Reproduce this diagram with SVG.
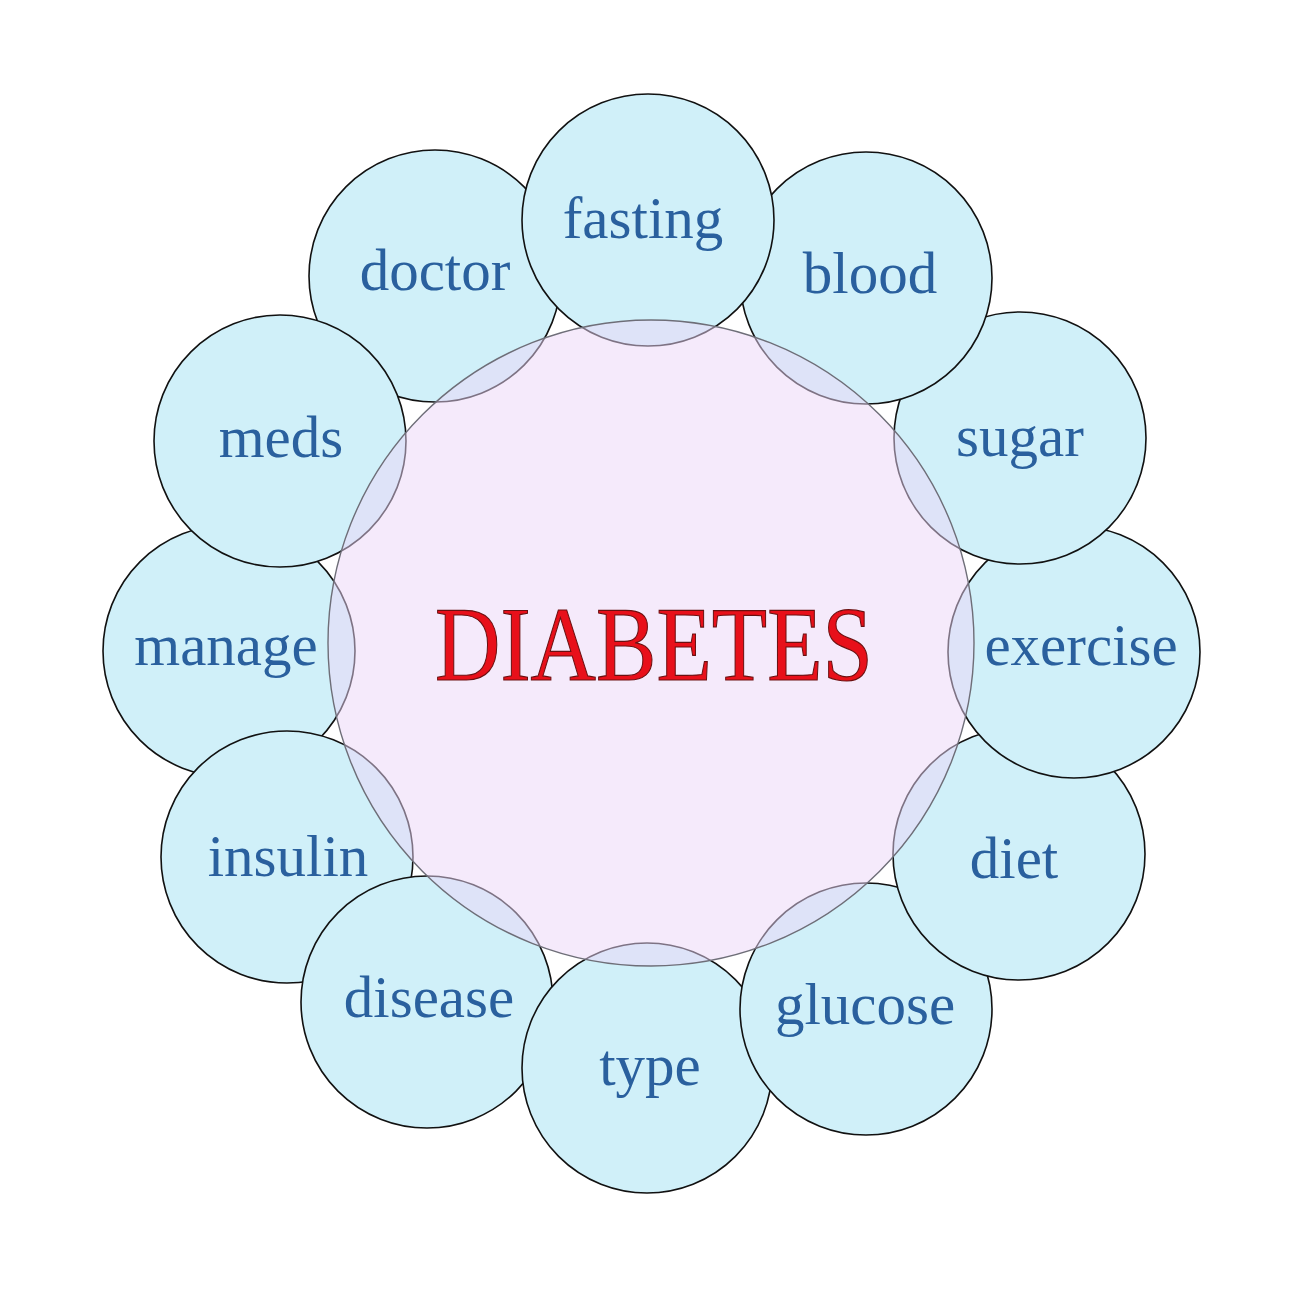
<svg xmlns="http://www.w3.org/2000/svg" width="1300" height="1300" viewBox="0 0 1300 1300">
<style>
.n{fill:#d0f0f9;stroke:#111;stroke-width:1.6}
.t{font-family:"Liberation Serif","Times New Roman",serif;font-size:59px;fill:#2a609e;text-anchor:middle}
.c{fill:#ecd6f8;fill-opacity:0.5;stroke:#6e6e78;stroke-width:1.4}
.h{font-family:"Liberation Serif","Times New Roman",serif;font-size:106px;fill:#e8101a;stroke:#6a1010;stroke-width:1.2;text-anchor:middle}
</style>
<rect width="1300" height="1300" fill="#ffffff"/>
<g id="nodes">
<g id="manage"><circle class="n" cx="229" cy="651" r="126"/><text class="t" x="226" y="665">manage</text></g>
<g id="insulin"><circle class="n" cx="287" cy="857" r="126"/><text class="t" x="288" y="876">insulin</text></g>
<g id="disease"><circle class="n" cx="427" cy="1002" r="126"/><text class="t" x="429" y="1017">disease</text></g>
<g id="type"><circle class="n" cx="647" cy="1068" r="125"/><text class="t" x="650" y="1085">type</text></g>
<g id="glucose"><circle class="n" cx="866" cy="1009" r="126"/><text class="t" x="865" y="1024">glucose</text></g>
<g id="diet"><circle class="n" cx="1019" cy="854" r="126"/><text class="t" x="1014" y="878">diet</text></g>
<g id="exercise"><circle class="n" cx="1074" cy="652" r="126"/><text class="t" x="1081" y="665">exercise</text></g>
<g id="sugar"><circle class="n" cx="1020" cy="438" r="126"/><text class="t" x="1020" y="456">sugar</text></g>
<g id="blood"><circle class="n" cx="866" cy="278" r="126"/><text class="t" x="870" y="293">blood</text></g>
<g id="doctor"><circle class="n" cx="435" cy="276" r="126"/><text class="t" x="435" y="290">doctor</text></g>
<g id="meds"><circle class="n" cx="280" cy="441" r="126"/><text class="t" x="281" y="457">meds</text></g>
<g id="fasting"><circle class="n" cx="648" cy="220" r="126"/><text class="t" x="643" y="238">fasting</text></g>
<g id="center"><circle class="c" cx="651" cy="643" r="323"/><text class="h" x="654" y="680" textLength="438" lengthAdjust="spacingAndGlyphs">DIABETES</text></g>
</g>
<g id="connectors"></g>
</svg>
